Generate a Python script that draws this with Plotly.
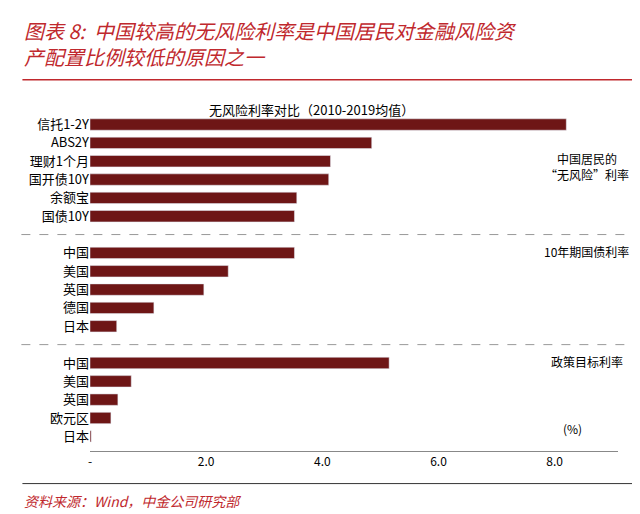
import plotly.graph_objects as go

labels = ["信托1-2Y", "ABS2Y", "理财1个月", "国开债10Y", "余额宝", "国债10Y",
          "中国", "美国", "英国", "德国", "日本",
          "中国", "美国", "英国", "欧元区", "日本"]
values = [8.2, 4.85, 4.14, 4.11, 3.56, 3.52,
          3.52, 2.38, 1.96, 1.10, 0.46,
          5.15, 0.71, 0.48, 0.36, 0.02]
positions = [0, 1, 2, 3, 4, 5, 7, 8, 9, 10, 11, 13, 14, 15, 16, 17]
xticks = [0, 2, 4, 6, 8]
xticklabels = ["-", "2.0", "4.0", "6.0", "8.0"]

font = "Noto Sans CJK SC"
red = "#C0282D"

fig = go.Figure(go.Bar(x=values, y=positions, orientation="h",
                       marker_color="#6E1616", width=0.62))

fig.update_layout(
    width=640, height=514, plot_bgcolor="white", paper_bgcolor="white",
    margin=dict(l=82, r=30, t=100, b=71), showlegend=False,
    font=dict(family=font, size=12, color="black"),
    xaxis=dict(range=[0, 9.09], tickvals=xticks, ticktext=xticklabels,
               showgrid=False, showline=True, linecolor="#888", ticks="",
               zeroline=False, tickfont=dict(size=12)),
    yaxis=dict(range=[17.8, -0.9], tickvals=positions, ticktext=labels,
               showgrid=False, showline=False, ticks="", zeroline=False,
               tickfont=dict(size=13)),
)

for yv in [6, 12]:
    fig.add_shape(type="line", xref="paper", yref="y", x0=-0.13, x1=1.04,
                  y0=yv, y1=yv, line=dict(color="#999", width=1, dash="dash"))

fig.add_annotation(text="无风险利率对比（2010-2019均值）", xref="paper", yref="paper",
                   x=0.42, y=1.03, showarrow=False, font=dict(size=13))
fig.add_annotation(text="中国居民的<br>“无风险”利率", x=8.55, y=2.3, showarrow=False,
                   font=dict(size=12), align="center")
fig.add_annotation(text="10年期国债利率", x=8.55, y=6.9, showarrow=False, font=dict(size=12))
fig.add_annotation(text="政策目标利率", x=8.55, y=12.9, showarrow=False, font=dict(size=12))
fig.add_annotation(text="(%)", x=8.3, y=16.6, showarrow=False, font=dict(size=12))

fig.add_annotation(text="<i>图表 8:  中国较高的无风险利率是中国居民对金融风险资<br>产配置比例较低的原因之一</i>",
                   xref="paper", yref="paper", x=-0.128, y=1.275, xanchor="left",
                   yanchor="top", showarrow=False, align="left",
                   font=dict(size=20, color=red))
fig.add_shape(type="line", xref="paper", yref="paper", x0=-0.128, x1=1.05,
              y0=1.082, y1=1.082, line=dict(color=red, width=1.5))
fig.add_shape(type="line", xref="paper", yref="paper", x0=-0.128, x1=1.05,
              y0=-0.095, y1=-0.095, line=dict(color="#333", width=1))
fig.add_annotation(text="<i>资料来源：Wind，中金公司研究部</i>", xref="paper", yref="paper",
                   x=-0.128, y=-0.11, xanchor="left", yanchor="top", showarrow=False,
                   font=dict(size=14, color=red))

fig.write_html("out.html")
